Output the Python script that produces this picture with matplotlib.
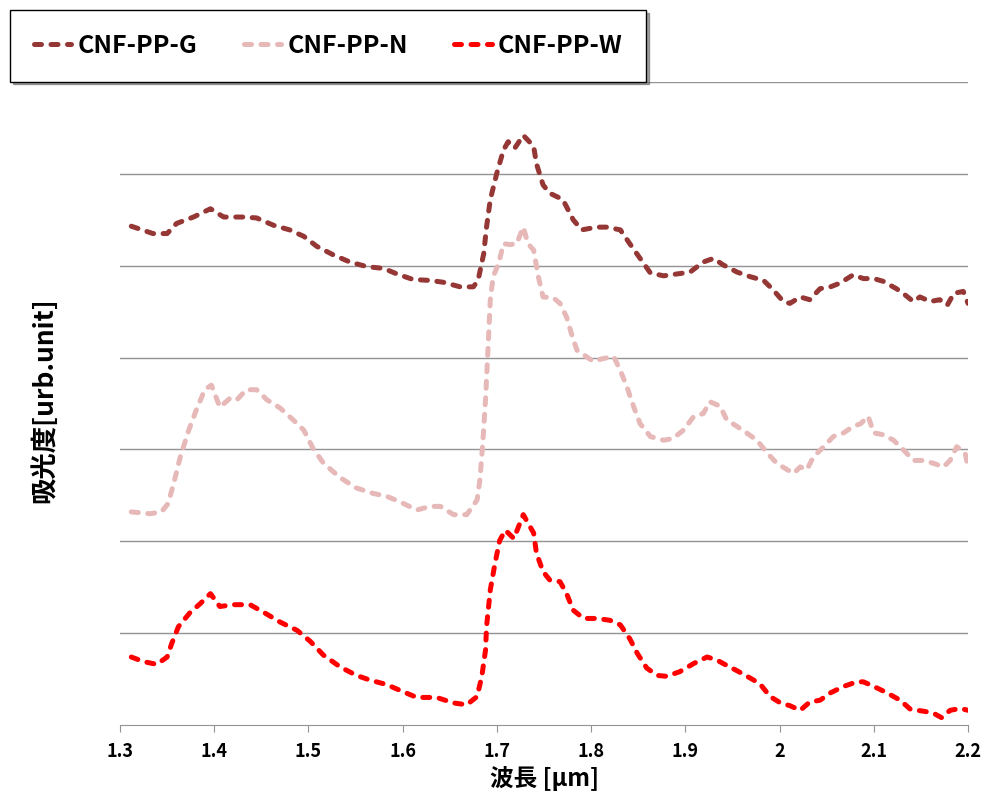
import matplotlib.pyplot as plt

# 波長 [µm] と吸光度 (任意単位、グリッド1目盛り = 1)
wl_g = [1.312, 1.335, 1.350, 1.360, 1.378, 1.396, 1.410, 1.431, 1.445, 1.463,
        1.480, 1.495, 1.509, 1.526, 1.544, 1.562, 1.580, 1.594, 1.611, 1.629,
        1.643, 1.661, 1.675, 1.680, 1.686, 1.689, 1.693, 1.700, 1.707, 1.712,
        1.719, 1.728, 1.739, 1.742, 1.749, 1.756, 1.770, 1.781, 1.790, 1.806,
        1.817, 1.831, 1.841, 1.852, 1.863, 1.877, 1.891, 1.905, 1.919, 1.930,
        1.940, 1.955, 1.969, 1.983, 1.993, 2.004, 2.011, 2.022, 2.032, 2.043,
        2.054, 2.064, 2.078, 2.089, 2.100, 2.110, 2.124, 2.131, 2.142, 2.149,
        2.160, 2.170, 2.178, 2.185, 2.195, 2.200]
abs_g = [5.43, 5.35, 5.35, 5.46, 5.53, 5.62, 5.53, 5.53, 5.52, 5.44,
         5.39, 5.32, 5.21, 5.12, 5.04, 4.99, 4.97, 4.91, 4.85, 4.84,
         4.82, 4.77, 4.77, 4.84, 5.13, 5.42, 5.72, 6.01, 6.26, 6.35,
         6.28, 6.42, 6.30, 6.11, 5.88, 5.79, 5.72, 5.50, 5.39, 5.42,
         5.42, 5.39, 5.24, 5.08, 4.92, 4.89, 4.91, 4.93, 5.04, 5.08,
         5.01, 4.93, 4.88, 4.84, 4.74, 4.61, 4.59, 4.66, 4.63, 4.75,
         4.77, 4.81, 4.90, 4.86, 4.86, 4.83, 4.75, 4.70, 4.61, 4.66,
         4.61, 4.63, 4.57, 4.70, 4.72, 4.59]

wl_n = [1.312, 1.332, 1.344, 1.351, 1.357, 1.364, 1.373, 1.381, 1.390, 1.397,
        1.406, 1.417, 1.424, 1.434, 1.445, 1.456, 1.470, 1.484, 1.495, 1.505,
        1.516, 1.534, 1.551, 1.569, 1.583, 1.597, 1.615, 1.629, 1.640, 1.654,
        1.668, 1.679, 1.682, 1.685, 1.688, 1.690, 1.693, 1.696, 1.702, 1.707,
        1.714, 1.721, 1.728, 1.733, 1.739, 1.744, 1.749, 1.760, 1.767, 1.774,
        1.780, 1.785, 1.795, 1.802, 1.813, 1.824, 1.831, 1.838, 1.845, 1.852,
        1.863, 1.877, 1.887, 1.898, 1.909, 1.919, 1.926, 1.937, 1.944, 1.955,
        1.965, 1.976, 1.987, 1.997, 2.008, 2.015, 2.022, 2.029, 2.036, 2.047,
        2.057, 2.068, 2.078, 2.086, 2.094, 2.100, 2.110, 2.121, 2.132, 2.142,
        2.153, 2.163, 2.174, 2.181, 2.188, 2.197, 2.200]
abs_n = [2.32, 2.30, 2.32, 2.41, 2.63, 2.92, 3.21, 3.43, 3.65, 3.70,
         3.46, 3.56, 3.54, 3.65, 3.65, 3.54, 3.45, 3.32, 3.21, 3.01,
         2.85, 2.69, 2.58, 2.52, 2.49, 2.43, 2.34, 2.38, 2.38, 2.29,
         2.29, 2.45, 2.67, 3.07, 3.55, 3.97, 4.63, 4.88, 5.03, 5.24,
         5.23, 5.24, 5.42, 5.24, 5.17, 4.88, 4.66, 4.65, 4.59, 4.44,
         4.23, 4.08, 4.01, 3.96, 3.99, 4.01, 3.86, 3.68, 3.47, 3.28,
         3.14, 3.10, 3.12, 3.21, 3.36, 3.39, 3.52, 3.47, 3.32, 3.25,
         3.18, 3.10, 2.96, 2.85, 2.78, 2.74, 2.81, 2.78, 2.92, 3.03,
         3.14, 3.18, 3.25, 3.28, 3.36, 3.18, 3.16, 3.10, 2.99, 2.88,
         2.88, 2.85, 2.81, 2.88, 3.03, 2.96, 2.81]

wl_w = [1.312, 1.325, 1.339, 1.350, 1.355, 1.362, 1.374, 1.385, 1.396, 1.406,
        1.420, 1.438, 1.452, 1.470, 1.488, 1.502, 1.516, 1.534, 1.551, 1.565,
        1.583, 1.601, 1.615, 1.636, 1.654, 1.668, 1.679, 1.684, 1.688, 1.689,
        1.693, 1.698, 1.703, 1.709, 1.718, 1.728, 1.739, 1.742, 1.749, 1.756,
        1.767, 1.774, 1.781, 1.792, 1.806, 1.820, 1.831, 1.841, 1.849, 1.859,
        1.870, 1.880, 1.894, 1.909, 1.923, 1.933, 1.940, 1.955, 1.969, 1.979,
        1.990, 2.001, 2.011, 2.022, 2.032, 2.043, 2.054, 2.068, 2.082, 2.089,
        2.100, 2.114, 2.128, 2.139, 2.153, 2.163, 2.172, 2.181, 2.192, 2.200]
abs_w = [0.74, 0.69, 0.66, 0.74, 0.89, 1.07, 1.22, 1.32, 1.43, 1.29,
         1.31, 1.31, 1.23, 1.12, 1.03, 0.91, 0.76, 0.63, 0.54, 0.49,
         0.44, 0.36, 0.30, 0.30, 0.24, 0.22, 0.31, 0.53, 0.82, 1.07,
         1.47, 1.76, 2.01, 2.12, 2.03, 2.29, 2.09, 1.87, 1.67, 1.58,
         1.56, 1.43, 1.25, 1.16, 1.16, 1.14, 1.09, 0.94, 0.78, 0.62,
         0.54, 0.53, 0.58, 0.67, 0.74, 0.71, 0.67, 0.59, 0.51, 0.45,
         0.31, 0.24, 0.21, 0.16, 0.25, 0.27, 0.35, 0.42, 0.47, 0.47,
         0.42, 0.35, 0.27, 0.17, 0.15, 0.13, 0.08, 0.16, 0.18, 0.16]

labels = ["CNF-PP-G", "CNF-PP-N", "CNF-PP-W"]
colors = ["#953735", "#E6B9B8", "#FF0000"]
x_ticks = [1.3, 1.4, 1.5, 1.6, 1.7, 1.8, 1.9, 2.0, 2.1, 2.2]
x_tick_labels = ["1.3", "1.4", "1.5", "1.6", "1.7", "1.8", "1.9", "2", "2.1", "2.2"]

plt.rcParams["font.family"] = ["Noto Sans CJK JP", "DejaVu Sans"]

fig = plt.figure(figsize=(9.85, 8.01), dpi=100)
ax = fig.add_axes([120 / 985, 76 / 801, 848 / 985, 643 / 801])

for wl, ab, lab, col in zip([wl_g, wl_n, wl_w], [abs_g, abs_n, abs_w], labels, colors):
    ax.plot(wl, ab, color=col, lw=3.6, label=lab,
            dashes=(1.4, 1.9), dash_capstyle="round", solid_capstyle="round")

ax.set_xlim(1.3, 2.2)
ax.set_ylim(0, 7)
ax.set_yticks(range(1, 8))
ax.set_yticklabels([])
ax.tick_params(axis="y", length=0)
ax.grid(axis="y", color="#939393", lw=1.0)
ax.set_axisbelow(True)

ax.set_xticks(x_ticks)
ax.set_xticklabels(x_tick_labels, fontsize=13, fontweight="bold")
ax.tick_params(axis="x", direction="out", length=5, color="#939393", pad=7)

for side in ["top", "right", "left"]:
    ax.spines[side].set_visible(False)
ax.spines["bottom"].set_color("#939393")

ax.set_xlabel("波長 [μm]", fontsize=17, fontweight="bold", labelpad=4)
fig.text(45 / 985, 0.5, "吸光度[urb.unit]", rotation=90, ha="center", va="center",
         fontsize=19, fontweight="bold")

leg = fig.legend(loc="upper left", bbox_to_anchor=(10 / 985, 1 - 10 / 801),
                 ncol=3, frameon=True, fancybox=False, shadow=True,
                 prop={"weight": "bold", "size": 18},
                 handlelength=1.5, handletextpad=0.25, columnspacing=1.85,
                 borderpad=0.95, borderaxespad=0)
leg.get_frame().set_edgecolor("black")
leg.get_frame().set_linewidth(1.0)

fig.savefig("out.png", dpi=100)
